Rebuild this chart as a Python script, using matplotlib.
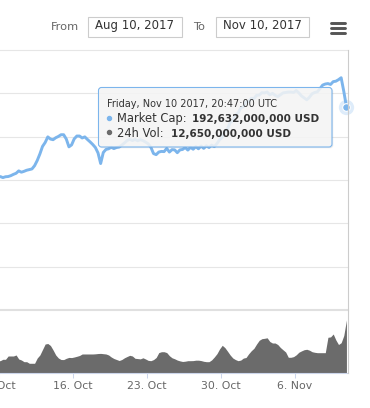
import numpy as np
import pandas as pd
import matplotlib
matplotlib.use('Agg')
import matplotlib.pyplot as plt
from matplotlib.patches import FancyBboxPatch, Rectangle
from matplotlib.lines import Line2D

# ---------------- data (billions USD, 6-hourly, ending at tooltip time) ----------------
market_cap_bn = [
    160.0, 160.4, 159.9, 160.3, 160.4, 160.8, 161.4, 161.9, 163.0, 162.4,
    162.8, 163.3, 163.6, 163.9, 165.4, 167.8, 170.8, 174.3, 176.1, 178.7,
    177.7, 177.4, 178.3, 178.9, 179.7, 179.7, 177.7, 174.1, 175.0, 177.8,
    179.1, 179.1, 178.2, 178.7, 177.5, 176.4, 175.2, 173.8, 171.3, 166.4,
    171.5, 172.9, 173.2, 173.9, 173.3, 173.8, 174.0, 174.9, 175.9, 177.0,
    177.6, 177.0, 177.5, 176.9, 177.4, 177.0, 176.3, 175.5, 173.9, 171.0,
    170.5, 171.7, 172.0, 171.9, 173.4, 171.7, 172.8, 172.7, 171.4, 172.7,
    172.9, 173.8, 172.6, 173.9, 173.0, 174.2, 173.2, 174.5, 173.4, 174.6,
    173.8, 174.9, 174.2, 175.6, 177.4, 178.5, 181.2, 182.4, 185.3, 186.2,
    188.9, 189.7, 192.0, 192.6, 194.8, 195.0, 196.5, 196.4, 197.9, 198.0,
    199.1, 199.0, 199.4, 198.1, 198.8, 197.9, 197.3, 198.1, 199.0, 199.2,
    199.4, 199.4, 199.2, 200.1, 199.0, 197.6, 196.7, 195.8, 197.0, 198.6,
    199.2, 199.5, 201.0, 202.6, 203.1, 203.3, 202.9, 204.2, 204.4, 205.1,
    206.0, 199.7, 192.632,
]
volume_bn = [
    2.94, 2.94, 3.27, 3.27, 4.06, 4.06, 4.06, 4.30, 3.34, 3.10,
    2.70, 2.70, 2.32, 2.32, 2.32, 3.58, 4.30, 5.61, 6.92, 7.04,
    6.56, 5.49, 4.30, 3.58, 3.22, 3.20, 3.51, 3.72, 3.68, 3.82,
    3.99, 4.18, 4.54, 4.54, 4.54, 4.54, 4.54, 4.58, 4.65, 4.68,
    4.61, 4.54, 4.30, 3.82, 3.46, 3.22, 2.98, 3.22, 3.63, 3.94,
    4.22, 4.06, 3.51, 3.44, 3.37, 3.63, 3.34, 3.01, 2.94, 3.20,
    3.70, 4.87, 5.08, 5.08, 4.87, 4.13, 3.63, 3.39, 3.08, 2.89,
    2.75, 2.82, 2.94, 2.94, 2.96, 3.06, 3.06, 2.96, 2.79, 2.70,
    2.70, 3.13, 3.82, 4.61, 5.75, 6.61, 6.06, 5.20, 4.30, 3.58,
    3.20, 2.94, 3.08, 3.56, 3.70, 4.58, 5.32, 5.90, 6.92, 7.81,
    8.19, 8.28, 8.40, 7.52, 7.16, 7.16, 6.80, 6.09, 5.54, 5.01,
    3.75, 3.75, 3.91, 4.34, 4.96, 5.28, 5.56, 5.66, 5.44, 5.08,
    4.94, 4.85, 4.85, 4.85, 4.85, 8.52, 8.62, 9.31, 7.88, 6.80,
    7.23, 8.95, 12.65,
]
last_time = '2017-11-10 20:47'
times = pd.date_range(end=last_time, periods=len(market_cap_bn), freq='6h')

tick_dates = ['2017-10-09', '2017-10-16', '2017-10-23', '2017-10-30', '2017-11-06']
tick_labels = ['9. Oct', '16. Oct', '23. Oct', '30. Oct', '6. Nov']

range_from = 'Aug 10, 2017'
range_to = 'Nov 10, 2017'
tooltip_header = 'Friday, Nov 10 2017, 20:47:00 UTC'
tooltip_cap_label = 'Market Cap:'
tooltip_cap_value = '192,632,000,000 USD'
tooltip_vol_label = '24h Vol:'
tooltip_vol_value = '12,650,000,000 USD'

# ---------------- styling ----------------
LINE_C = '#7cb5ec'
VOL_C = '#6b6b6b'
GRID_C = '#e6e6e6'
AXIS_C = '#ccd6eb'
plt.rcParams['font.family'] = ['DejaVu Sans']

W, H = 370, 408
fig = plt.figure(figsize=(W / 100, H / 100), dpi=100)
fig.patch.set_facecolor('white')


def fx(px):
    return px / W


def fy(py):
    return 1 - py / H


axp = fig.add_axes([fx(-20), fy(310), fx(368), (310 - 50) / H])
axv = fig.add_axes([fx(-20), fy(373), fx(368), (373 - 310) / H], sharex=axp)

xmin = pd.Timestamp('2017-10-07 04:51')
xmax = pd.Timestamp('2017-11-11 00:20')

# price panel
p_lo, p_hi = 98.8, 218.8
axp.set_ylim(p_lo, p_hi)
axp.set_xlim(xmin, xmax)
for s in axp.spines.values():
    s.set_visible(False)
axp.set_yticks([])
axp.tick_params(axis='x', which='both', length=0, labelbottom=False)
for gv in np.linspace(p_lo, p_hi, 7)[1:]:
    axp.axhline(gv, color=GRID_C, lw=0.8, zorder=1, clip_on=False)
axp.plot(times, market_cap_bn, color=LINE_C, lw=2.1, solid_joinstyle='round',
         solid_capstyle='round', zorder=3)
axp.plot(times[-1], market_cap_bn[-1], 'o', ms=11, color=LINE_C, alpha=0.25,
         mec='none', clip_on=False, zorder=4)
axp.plot(times[-1], market_cap_bn[-1], 'o', ms=5.5, mfc=LINE_C, mec='white',
         mew=0.8, clip_on=False, zorder=5)

# volume panel
axv.set_ylim(0, 15.04)
axv.fill_between(times, volume_bn, 0, color=VOL_C, lw=0, zorder=2)
for k, s in axv.spines.items():
    s.set_visible(k == 'bottom')
axv.spines['bottom'].set_color(AXIS_C)
axv.spines['bottom'].set_linewidth(0.8)
axv.set_yticks([])
axv.set_xticks([pd.Timestamp(d) for d in tick_dates])
axv.set_xticklabels(tick_labels)
axv.tick_params(axis='x', length=3.6, width=0.75, color=AXIS_C, labelsize=7.8,
                labelcolor='#666666', pad=2.5)
axv.axhline(15.04, color='#e0e0e0', lw=1.5, clip_on=False, zorder=1)
axv.set_xlim(xmin, xmax)

# overlay in pixel coordinates
axo = fig.add_axes([0, 0, 1, 1])
axo.set_xlim(0, W)
axo.set_ylim(H, 0)
axo.axis('off')
axo.patch.set_alpha(0)

# right border line
axo.add_line(Line2D([347.7, 347.7], [50, 373], color='#cccccc', lw=0.8))

# range selector
axo.text(50.7, 29.5, 'From', fontsize=8.2, color='#666666', ha='left', va='baseline')
axo.add_patch(Rectangle((87.5, 16.5), 94.5, 20.5, fc='white', ec='#cccccc', lw=0.8))
axo.text(134.5, 29.5, range_from, fontsize=8.5, color='#333333', ha='center', va='baseline')
axo.text(193.3, 29.5, 'To', fontsize=8.2, color='#666666', ha='left', va='baseline')
axo.add_patch(Rectangle((215.5, 16.5), 93.5, 20.5, fc='white', ec='#cccccc', lw=0.8))
axo.text(262.2, 29.5, range_to, fontsize=8.5, color='#333333', ha='center', va='baseline')
for yb in (22.7, 28.2, 33.2):
    axo.plot([330.8, 345.2], [yb, yb], color='#555555', lw=2.1, solid_capstyle='round')

# tooltip
axo.add_patch(FancyBboxPatch((99.8, 88.8), 233.5, 59.5,
                             boxstyle='round,pad=0,rounding_size=3',
                             fc='black', ec='none', alpha=0.07, zorder=6))
axo.add_patch(FancyBboxPatch((98.5, 87.5), 233.5, 59.5,
                             boxstyle='round,pad=0,rounding_size=3',
                             fc=(247 / 255, 247 / 255, 247 / 255, 0.86), ec=LINE_C,
                             lw=0.8, zorder=7))
axo.text(106.7, 106.7, tooltip_header, fontsize=7.0, color='#333333',
         ha='left', va='baseline', zorder=8)
axo.plot(109.3, 117.7, 'o', ms=2.9, color=LINE_C, zorder=8)
axo.text(116.7, 122.0, tooltip_cap_label, fontsize=8.3, color='#333333',
         ha='left', va='baseline', zorder=8)
axo.text(191.7, 122.0, tooltip_cap_value, fontsize=7.5, fontweight='bold',
         color='#333333', ha='left', va='baseline', zorder=8)
axo.plot(109.3, 132.3, 'o', ms=2.9, color=VOL_C, zorder=8)
axo.text(116.7, 136.7, tooltip_vol_label, fontsize=8.3, color='#333333',
         ha='left', va='baseline', zorder=8)
axo.text(170.7, 136.7, tooltip_vol_value, fontsize=7.5, fontweight='bold',
         color='#333333', ha='left', va='baseline', zorder=8)

fig.savefig('out.png', dpi=100, facecolor='white')
